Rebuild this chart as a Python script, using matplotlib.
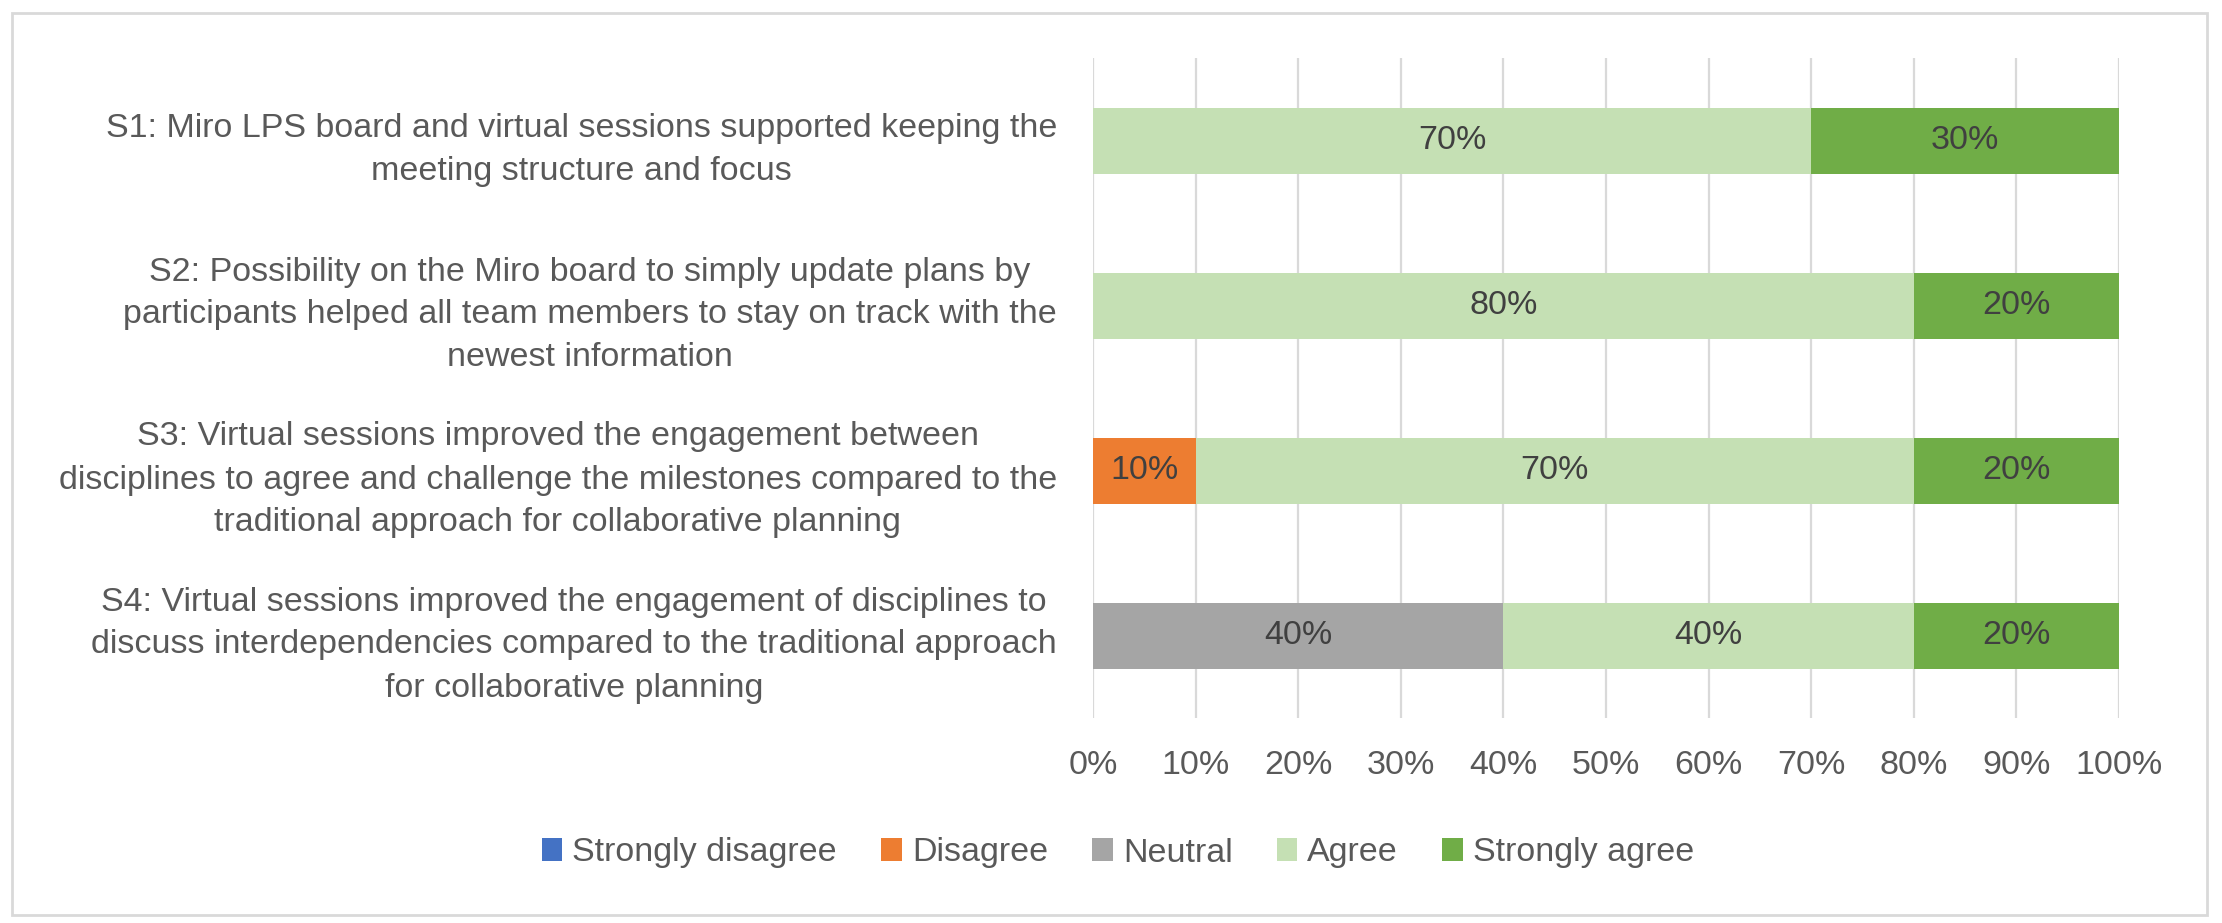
import matplotlib
matplotlib.use("Agg")
import matplotlib.pyplot as plt
from matplotlib.patches import Rectangle
from matplotlib import font_manager
import numpy as np

statements = [
    "S1: Miro LPS board and virtual sessions supported keeping the\nmeeting structure and focus",
    "S2: Possibility on the Miro board to simply update plans by\nparticipants helped all team members to stay on track with the\nnewest information",
    "S3: Virtual sessions improved the engagement between\ndisciplines to agree and challenge the milestones compared to the\ntraditional approach for collaborative planning",
    "S4: Virtual sessions improved the engagement of disciplines to\ndiscuss interdependencies compared to the traditional approach\nfor collaborative planning",
]
series_names = ["Strongly disagree", "Disagree", "Neutral", "Agree", "Strongly agree"]
strongly_disagree = [0, 0, 0, 0]
disagree = [0, 0, 10, 0]
neutral = [0, 0, 0, 40]
agree = [70, 80, 70, 40]
strongly_agree = [30, 20, 20, 20]
x_ticks = [0, 10, 20, 30, 40, 50, 60, 70, 80, 90, 100]
x_tick_labels = [f"{t}%" for t in x_ticks]

colors = ["#4472C4", "#ED7D31", "#A5A5A5", "#C5E0B4", "#70AD47"]

avail = {f.name for f in font_manager.fontManager.ttflist}
fam = "Liberation Sans Narrow" if "Liberation Sans Narrow" in avail else "Liberation Sans"
plt.rcParams['font.family'] = [fam, 'DejaVu Sans']

FS = 24.5
TXT = "#595959"

fig = plt.figure(figsize=(22.22, 9.23), dpi=100)
ax = fig.add_axes([1093/2222, 1 - 718/923, (2119 - 1093)/2222, (718 - 58)/923])

data = [strongly_disagree, disagree, neutral, agree, strongly_agree]
y = np.arange(len(statements))
left = np.zeros(len(statements))
for name, vals, c in zip(series_names, data, colors):
    vals = np.array(vals, dtype=float)
    bars = ax.barh(y, vals, left=left, height=0.4, color=c, label=name, zorder=3)
    ax.bar_label(bars, labels=[f"{v:.0f}%" if v > 0 else "" for v in vals],
                 label_type='center', fontsize=FS, color="#404040")
    left += vals

ax.set_xlim(0, 100)
ax.set_ylim(len(statements) - 0.5, -0.5)
ax.set_xticks(x_ticks)
ax.set_xticklabels(x_tick_labels, fontsize=FS, color=TXT)
ax.set_yticks(y)
ax.set_yticklabels(statements, fontsize=FS, color=TXT, ha='right',
                   multialignment='center', linespacing=1.5)
ax.tick_params(axis='x', length=0, pad=23)
ax.tick_params(axis='y', length=0, pad=26)
ax.grid(axis='x', color="#D9D9D9", linewidth=1.6, zorder=0)
for s in ax.spines.values():
    s.set_visible(False)

leg = fig.legend(loc='center', bbox_to_anchor=(1118/2222, 1 - 853/923), ncol=5,
                 frameon=False, fontsize=FS, handlelength=0.6, handleheight=0.65,
                 handletextpad=0.3, columnspacing=1.3, labelcolor=TXT)

fig.patches.append(Rectangle((12/2222, 1 - 915/923), (2207 - 12)/2222, (915 - 13)/923,
                             transform=fig.transFigure, fill=False,
                             edgecolor="#D9D9D9", linewidth=2))

fig.savefig("out.png", dpi=100, facecolor="white")
